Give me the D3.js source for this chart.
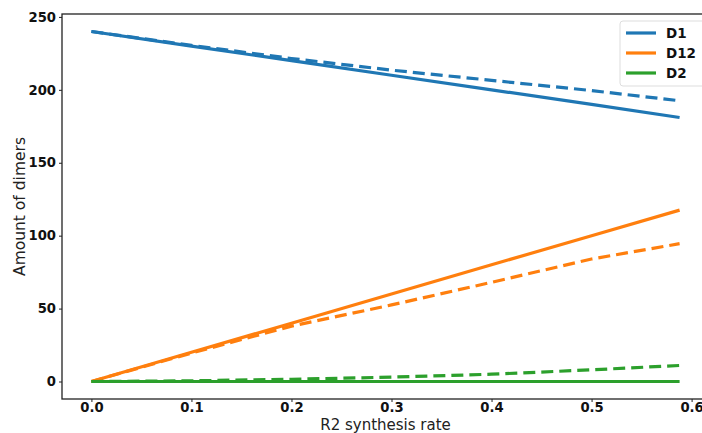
<!DOCTYPE html>
<html>
<head>
<meta charset="utf-8">
<script src="https://cdn.jsdelivr.net/npm/d3@7"></script>
<style>
  body { margin: 0; background: #fff; }
  svg { display: block; font-family: "DejaVu Sans", sans-serif; }
</style>
</head>
<body>
<svg id="chart" width="702" height="433"></svg>
<script>
// values
const rates = [0, 0.1, 0.2, 0.3, 0.4, 0.5, 0.588];
const d1Solid = [240, 230, 220, 210, 200, 190, 181];
const d1Dashed = [240, 230.5, 221.5, 213.5, 206.5, 199.5, 192.5];
const d12Solid = [0, 20, 40, 60, 80, 100, 117.5];
const d12Dashed = [0, 19.5, 38, 52.5, 68, 84, 94.5];
const d2Solid = [0, 0, 0, 0, 0, 0, 0];
const d2Dashed = [0, 0.5, 1.5, 3, 5, 8, 11];
const seriesNames = ['D1', 'D12', 'D2'];
const seriesColors = ['#1f77b4', '#ff7f0e', '#2ca02c'];
const xTicks = [0, 0.1, 0.2, 0.3, 0.4, 0.5, 0.6];
const yTicks = [0, 50, 100, 150, 200, 250];

const lines = [
  {name: 'D1', vals: d1Solid, dashed: false},
  {name: 'D1', vals: d1Dashed, dashed: true},
  {name: 'D12', vals: d12Solid, dashed: false},
  {name: 'D12', vals: d12Dashed, dashed: true},
  {name: 'D2', vals: d2Solid, dashed: false},
  {name: 'D2', vals: d2Dashed, dashed: true}
];

const dim = {w: 702, h: 433, left: 62, right: 709, top: 14, bottom: 399};
const color = d3.scaleOrdinal().domain(seriesNames).range(seriesColors);

const xScale = d3.scaleLinear().domain([-0.0294, 0.6174]).range([dim.left, dim.right]);
const yScale = d3.scaleLinear().domain([-12, 252]).range([dim.bottom, dim.top]);

const $svg = d3.select('#chart');

// frame
$svg.append('rect')
  .attr('x', dim.left).attr('y', dim.top)
  .attr('width', dim.right - dim.left).attr('height', dim.bottom - dim.top)
  .attr('fill', 'none').attr('stroke', '#222').attr('stroke-width', 1.3);

const xAxis = $svg.append('g')
  .attr('transform', 'translate(0,' + dim.bottom + ')')
  .call(d3.axisBottom(xScale).tickValues(xTicks).tickFormat(d3.format('.1f')).tickSize(3).tickPadding(1));
const yAxis = $svg.append('g')
  .attr('transform', 'translate(' + dim.left + ',0)')
  .call(d3.axisLeft(yScale).tickValues(yTicks).tickFormat(d3.format('d')).tickSize(3).tickPadding(3));

[xAxis, yAxis].forEach(($a) => {
  $a.select('.domain').remove();
  $a.selectAll('line').attr('stroke', '#222');
  $a.selectAll('text')
    .attr('font-family', 'DejaVu Sans')
    .attr('font-size', 13.2)
    .attr('font-weight', 'bold')
    .attr('fill', '#111');
});

const line = d3.line()
  .x((d, i) => xScale(rates[i]))
  .y((d) => yScale(d));

$svg.append('g')
  .selectAll('path')
  .data(lines)
  .enter()
  .append('path')
  .attr('d', (d) => line(d.vals))
  .attr('fill', 'none')
  .attr('stroke', (d) => color(d.name))
  .attr('stroke-width', 3.2)
  .attr('stroke-dasharray', (d) => d.dashed ? '12,6' : null);

// axis labels
$svg.append('text')
  .text('R2 synthesis rate')
  .attr('text-anchor', 'middle')
  .attr('font-size', 15)
  .attr('fill', '#222')
  .attr('x', (dim.left + dim.right) / 2)
  .attr('y', 430);

$svg.append('text')
  .text('Amount of dimers')
  .attr('text-anchor', 'middle')
  .attr('font-size', 15.5)
  .attr('fill', '#222')
  .attr('transform', 'translate(25,' + (dim.top + dim.bottom) / 2 + ') rotate(-90)');

// legend
const $legend = $svg.append('g').attr('transform', 'translate(620,21)');
$legend.append('rect')
  .attr('width', 90).attr('height', 65).attr('rx', 3)
  .attr('fill', '#fff').attr('fill-opacity', 0.8)
  .attr('stroke', '#ddd');
const $items = $legend.selectAll('g.item')
  .data(seriesNames)
  .enter()
  .append('g')
  .attr('transform', (d, i) => 'translate(0,' + (12 + i * 20) + ')');
$items.append('line')
  .attr('x1', 6).attr('x2', 36)
  .attr('stroke', (d) => color(d))
  .attr('stroke-width', 3.2);
$items.append('text')
  .text((d) => d)
  .attr('x', 46).attr('y', 5)
  .attr('font-size', 13.5)
  .attr('font-weight', 'bold')
  .attr('fill', '#111');
</script>
</body>
</html>
